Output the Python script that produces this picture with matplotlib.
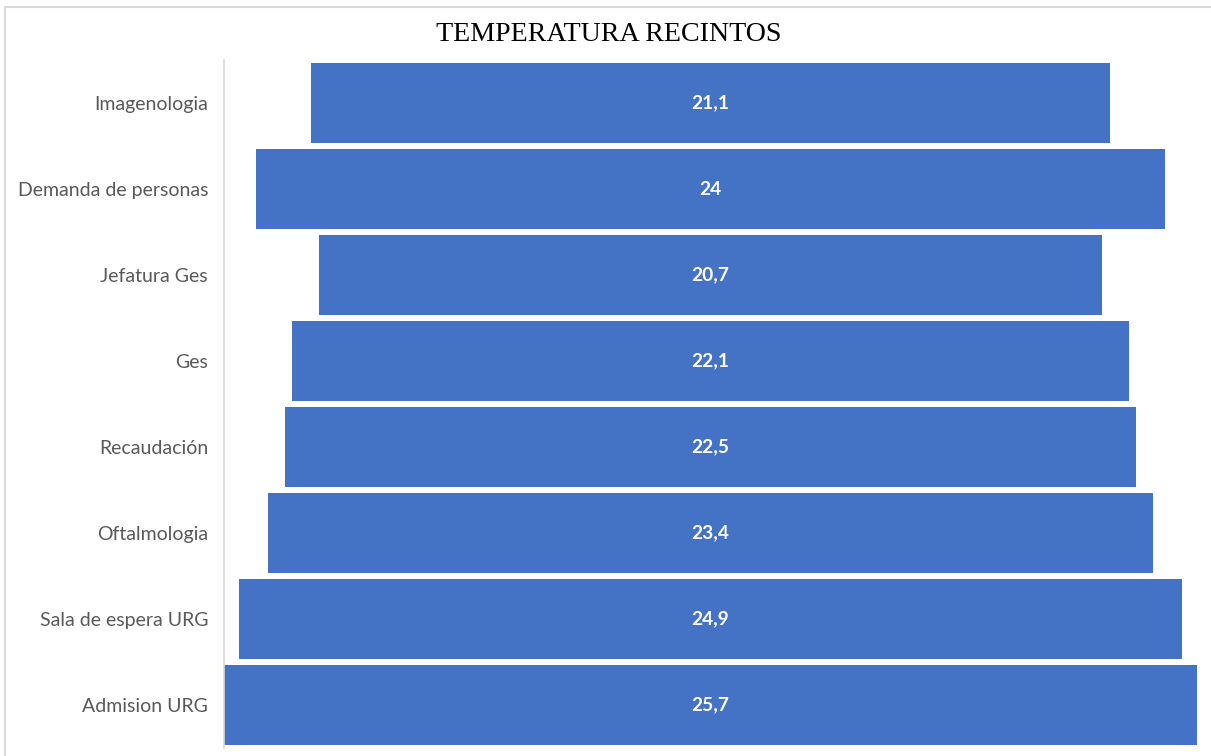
import matplotlib.pyplot as plt
from matplotlib.patches import Rectangle

recintos = ["Imagenologia", "Demanda de personas", "Jefatura Ges", "Ges",
            "Recaudación", "Oftalmologia", "Sala de espera URG", "Admision URG"]
temperaturas = [21.1, 24, 20.7, 22.1, 22.5, 23.4, 24.9, 25.7]
etiquetas = ["21,1", "24", "20,7", "22,1", "22,5", "23,4", "24,9", "25,7"]

fig = plt.figure(figsize=(12.11, 7.56), dpi=100)
ax = fig.add_axes([0.185, 0.0106, 0.8034, 0.91])

# funnel: bars centred at 0
pos = list(range(len(recintos)))[::-1]
izq = [-t / 2 for t in temperaturas]
ax.barh(pos, temperaturas, left=izq, height=0.93, color="#4472C4")

for p, t, e in zip(pos, temperaturas, etiquetas):
    ax.text(0, p, e, ha="center", va="center", color="white",
            fontsize=13.8, fontweight="bold", family="Lato")

maxv = max(temperaturas)
ax.set_xlim(-maxv / 2, maxv / 2)
ax.set_ylim(-0.5, len(recintos) - 0.5)
ax.set_yticks(pos)
ax.set_yticklabels(recintos, family="Lato", fontsize=14, color="#595959")
ax.tick_params(axis="y", length=0, pad=11.5)
ax.set_xticks([])
for s in ["top", "right", "bottom"]:
    ax.spines[s].set_visible(False)
ax.spines["left"].set_color("#d9d9d9")
ax.spines["left"].set_linewidth(1.2)

fig.text(0.503, 0.955, "TEMPERATURA RECINTOS", ha="center", va="center",
         family="Liberation Serif", fontsize=20.2)

# chart frame
fig.patches.append(Rectangle((5 / 1211, -0.1), 1.2, 1.1 - 7 / 756, transform=fig.transFigure,
                             fill=False, edgecolor="#d9d9d9", linewidth=1.5))

fig.savefig("out.png")
